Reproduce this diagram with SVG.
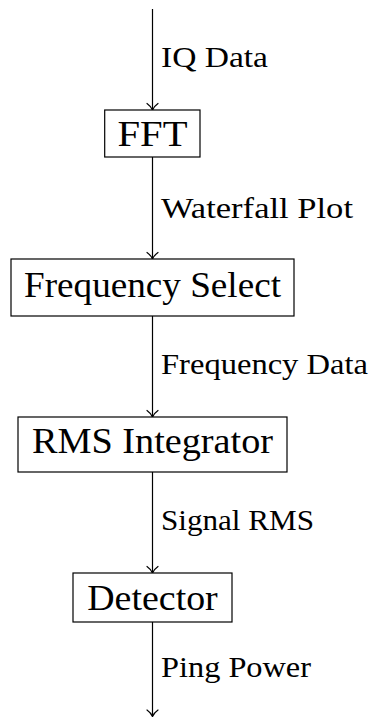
<svg xmlns="http://www.w3.org/2000/svg" width="371" height="717" viewBox="0 0 371 717">
<style>
.box{fill:#fff;stroke:#000;stroke-width:1.2}
.bt{font-size:35.5px;fill:#000;text-anchor:middle}
.lt{font-size:30px;fill:#000}
.edge{fill:none;stroke:#000;stroke-width:1.2;marker-end:url(#arr)}
</style>
<defs>
<marker id="arr" markerUnits="userSpaceOnUse" markerWidth="16" markerHeight="16" viewBox="-8 -8 16 16" refX="0" refY="0" orient="auto">
<path d="M -6.5,-5.5 C -4,-2 -1.5,-0.6 0,0 C -1.5,0.6 -4,2 -6.5,5.5" fill="none" stroke="#000" stroke-width="1.2" stroke-linecap="round"/>
</marker>
</defs>
<g id="connectors">
<path class="edge" d="M152.5,9 V110"/>
<path class="edge" d="M152.5,157 V259"/>
<path class="edge" d="M152.5,316 V417"/>
<path class="edge" d="M152.5,472 V573"/>
<path class="edge" d="M152.5,622 V716.5"/>
</g>
<g id="edge-labels" font-family="Liberation Serif, Times New Roman, serif">
<text class="lt" x="161" y="66.7" textLength="107" lengthAdjust="spacingAndGlyphs">IQ Data</text>
<text class="lt" x="161" y="218.3" textLength="192" lengthAdjust="spacingAndGlyphs">Waterfall Plot</text>
<text class="lt" x="161" y="373.7" textLength="207" lengthAdjust="spacingAndGlyphs">Frequency Data</text>
<text class="lt" x="161" y="530" textLength="153" lengthAdjust="spacingAndGlyphs">Signal RMS</text>
<text class="lt" x="161" y="676.7" textLength="150" lengthAdjust="spacingAndGlyphs">Ping Power</text>
</g>
<g id="fft" font-family="Liberation Serif, Times New Roman, serif">
<rect class="box" x="104.7" y="110" width="95.3" height="47"/>
<text class="bt" x="152.5" y="145.5" textLength="70" lengthAdjust="spacingAndGlyphs">FFT</text>
</g>
<g id="frequency-select" font-family="Liberation Serif, Times New Roman, serif">
<rect class="box" x="11" y="259" width="283" height="57"/>
<text class="bt" x="152.5" y="296.5" textLength="257" lengthAdjust="spacingAndGlyphs">Frequency Select</text>
</g>
<g id="rms-integrator" font-family="Liberation Serif, Times New Roman, serif">
<rect class="box" x="18" y="417" width="269" height="55"/>
<text class="bt" x="152.5" y="453" textLength="241" lengthAdjust="spacingAndGlyphs">RMS Integrator</text>
</g>
<g id="detector" font-family="Liberation Serif, Times New Roman, serif">
<rect class="box" x="73" y="573" width="159" height="49"/>
<text class="bt" x="152.5" y="609.5" textLength="130.5" lengthAdjust="spacingAndGlyphs">Detector</text>
</g>
</svg>
